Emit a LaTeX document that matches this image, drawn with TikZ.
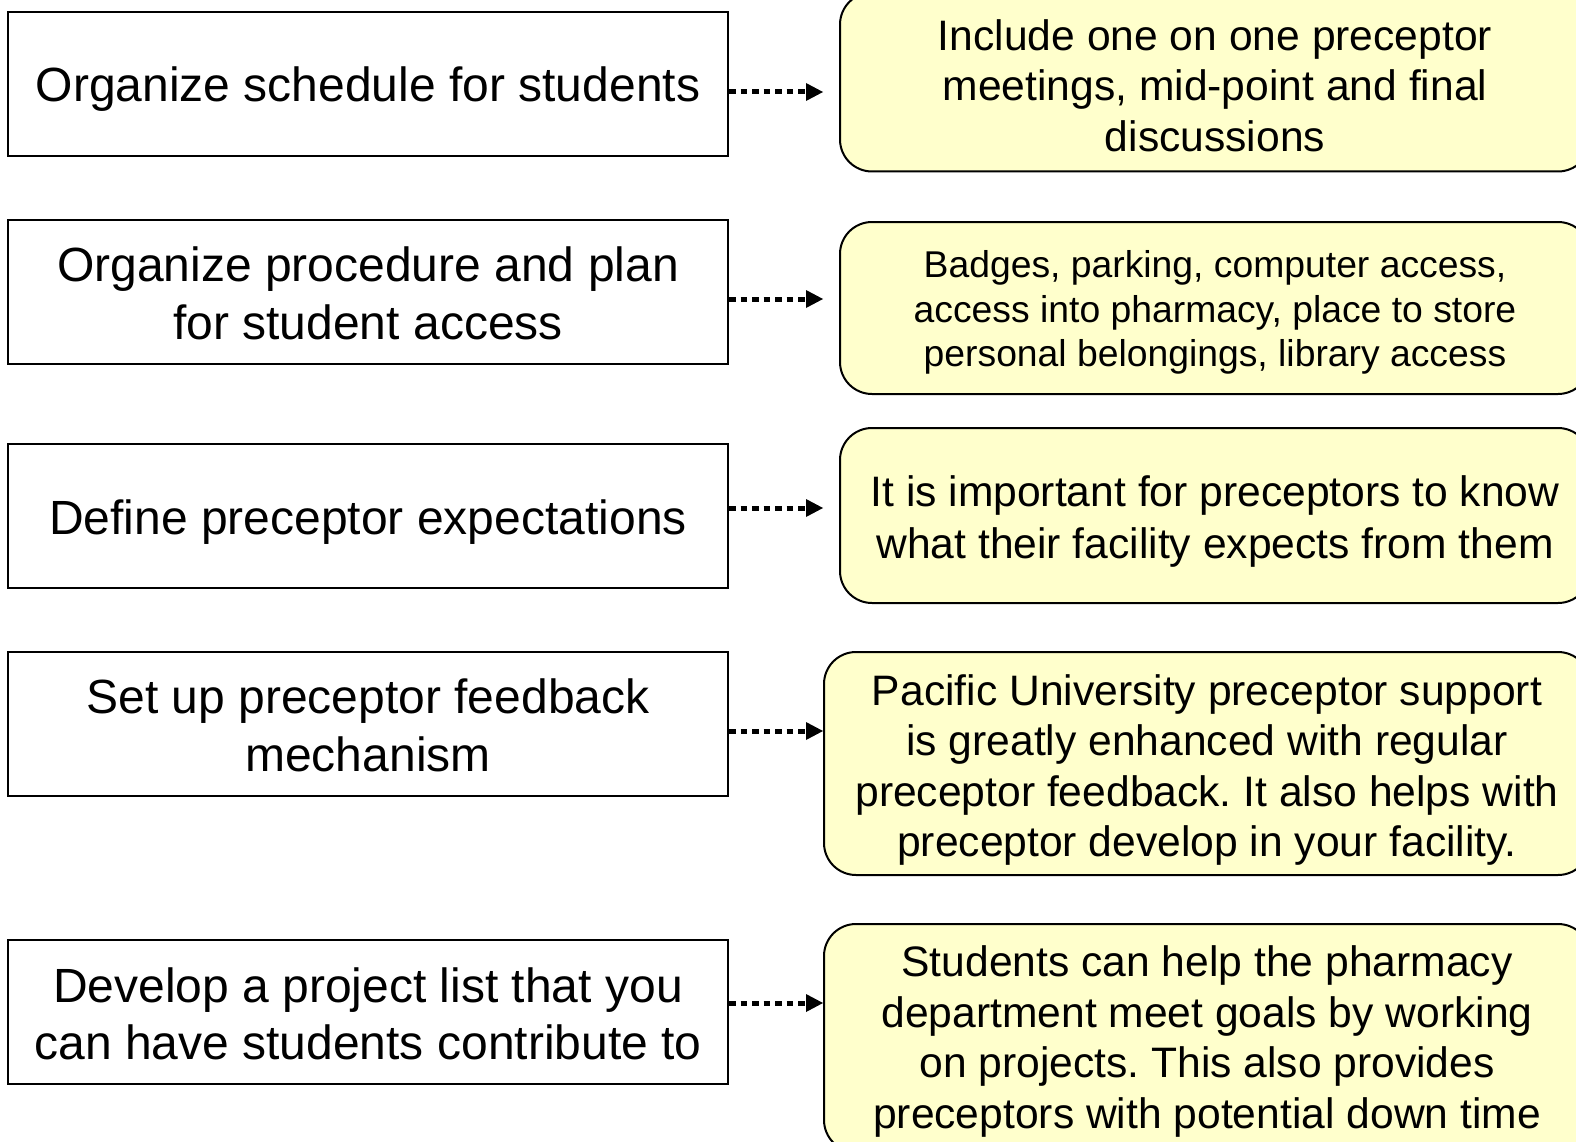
\documentclass[tikz,border=0pt]{standalone}
\usepackage{fontspec}
\setmainfont{Liberation Sans}
\usetikzlibrary{arrows.meta}
\frenchspacing
\definecolor{noteyellow}{HTML}{FFFFCC}
\tikzset{
  stepbox/.style={draw=black, line width=2pt, fill=white, minimum width=720pt, minimum height=144pt, inner sep=0pt},
  steptext/.style={inner sep=0pt, align=center, font=\fontsize{48}{57.5}\selectfont},
  notebox/.style={draw=black, line width=2pt, fill=noteyellow, rounded corners=32pt, inner sep=0pt},
  notetext/.style={inner sep=0pt, align=center, font=\fontsize{42.6}{50.5}\selectfont},
  arr/.style={line width=5pt, dash pattern=on 6.5pt off 5pt, -{Triangle[length=17pt,width=18pt,line width=0pt]}}
}
\begin{document}
\begin{tikzpicture}[x=1pt,y=-1pt]
\useasboundingbox (0,0) rectangle (1576,1142);
\clip (0,0) rectangle (1576,1142);
\fill[white] (0,0) rectangle (1576,1142);

% left boxes
\node[stepbox] (l1) at (368,84) {};
\node[stepbox] (l2) at (368,291.5) {};
\node[stepbox] (l3) at (368,515.5) {};
\node[stepbox] (l4) at (368,724) {};
\node[stepbox] (l5) at (368,1011.5) {};
\node[steptext, yshift=-5pt] (lt1) at (l1.center) {Organize schedule for students};
\node[steptext, yshift=-2pt] (lt2) at (l2.center) {Organize procedure and plan\\for student access};
\node[steptext, yshift=-7pt] (lt3) at (l3.center) {Define preceptor expectations};
\node[steptext, yshift=-1.5pt] (lt4) at (l4.center) {Set up preceptor feedback\\mechanism};
\node[steptext, yshift=-2.5pt] (lt5) at (l5.center) {Develop a project list that you\\can have students contribute to};

% right boxes
\node[notebox, minimum width=750pt, minimum height=179pt] (r1) at (1215,82) {};
\node[notebox, minimum width=750pt, minimum height=172pt] (r2) at (1215,308) {};
\node[notebox, minimum width=750pt, minimum height=175pt] (r3) at (1215,515.5) {};
\node[notebox, minimum width=766pt, minimum height=223pt] (r4) at (1207,763.5) {};
\node[notebox, minimum width=766pt, minimum height=228pt] (r5) at (1207,1038) {};
\node[notetext, yshift=-3.5pt] (rt1) at (r1.center) {Include one on one preceptor\\meetings, mid-point and final\\discussions};
\node[notetext, yshift=-4.5pt, font=\fontsize{37.3}{44.7}\selectfont] (rt2) at (r2.center) {Badges, parking, computer access,\\access into pharmacy, place to store\\personal belongings, library access};
\node[notetext, yshift=-5.5pt, font=\fontsize{42.6}{52}\selectfont] (rt3) at (r3.center) {It is important for preceptors to know\\what their facility expects from them};
\node[notetext, yshift=-6.5pt] (rt4) at (r4.center) {Pacific University preceptor support\\is greatly enhanced with regular\\preceptor feedback. It also helps with\\preceptor develop in your facility.};
\node[notetext, yshift=-3.5pt] (rt5) at (r5.center) {Students can help the pharmacy\\department meet goals by working\\on projects. This also provides\\preceptors with potential down time};

% arrow end points
\coordinate (e1) at (823,92);
\coordinate (e2) at (823,299);
\coordinate (e3) at (823,508);
\coordinate (e4) at (823,731);
\coordinate (e5) at (823,1003);

\draw[arr] (l1.east |- e1) -- (e1);
\draw[arr] (l2.east |- e2) -- (e2);
\draw[arr] (l3.east |- e3) -- (e3);
\draw[arr] (l4.east |- e4) -- (e4);
\draw[arr] (l5.east |- e5) -- (e5);
\end{tikzpicture}
\end{document}
